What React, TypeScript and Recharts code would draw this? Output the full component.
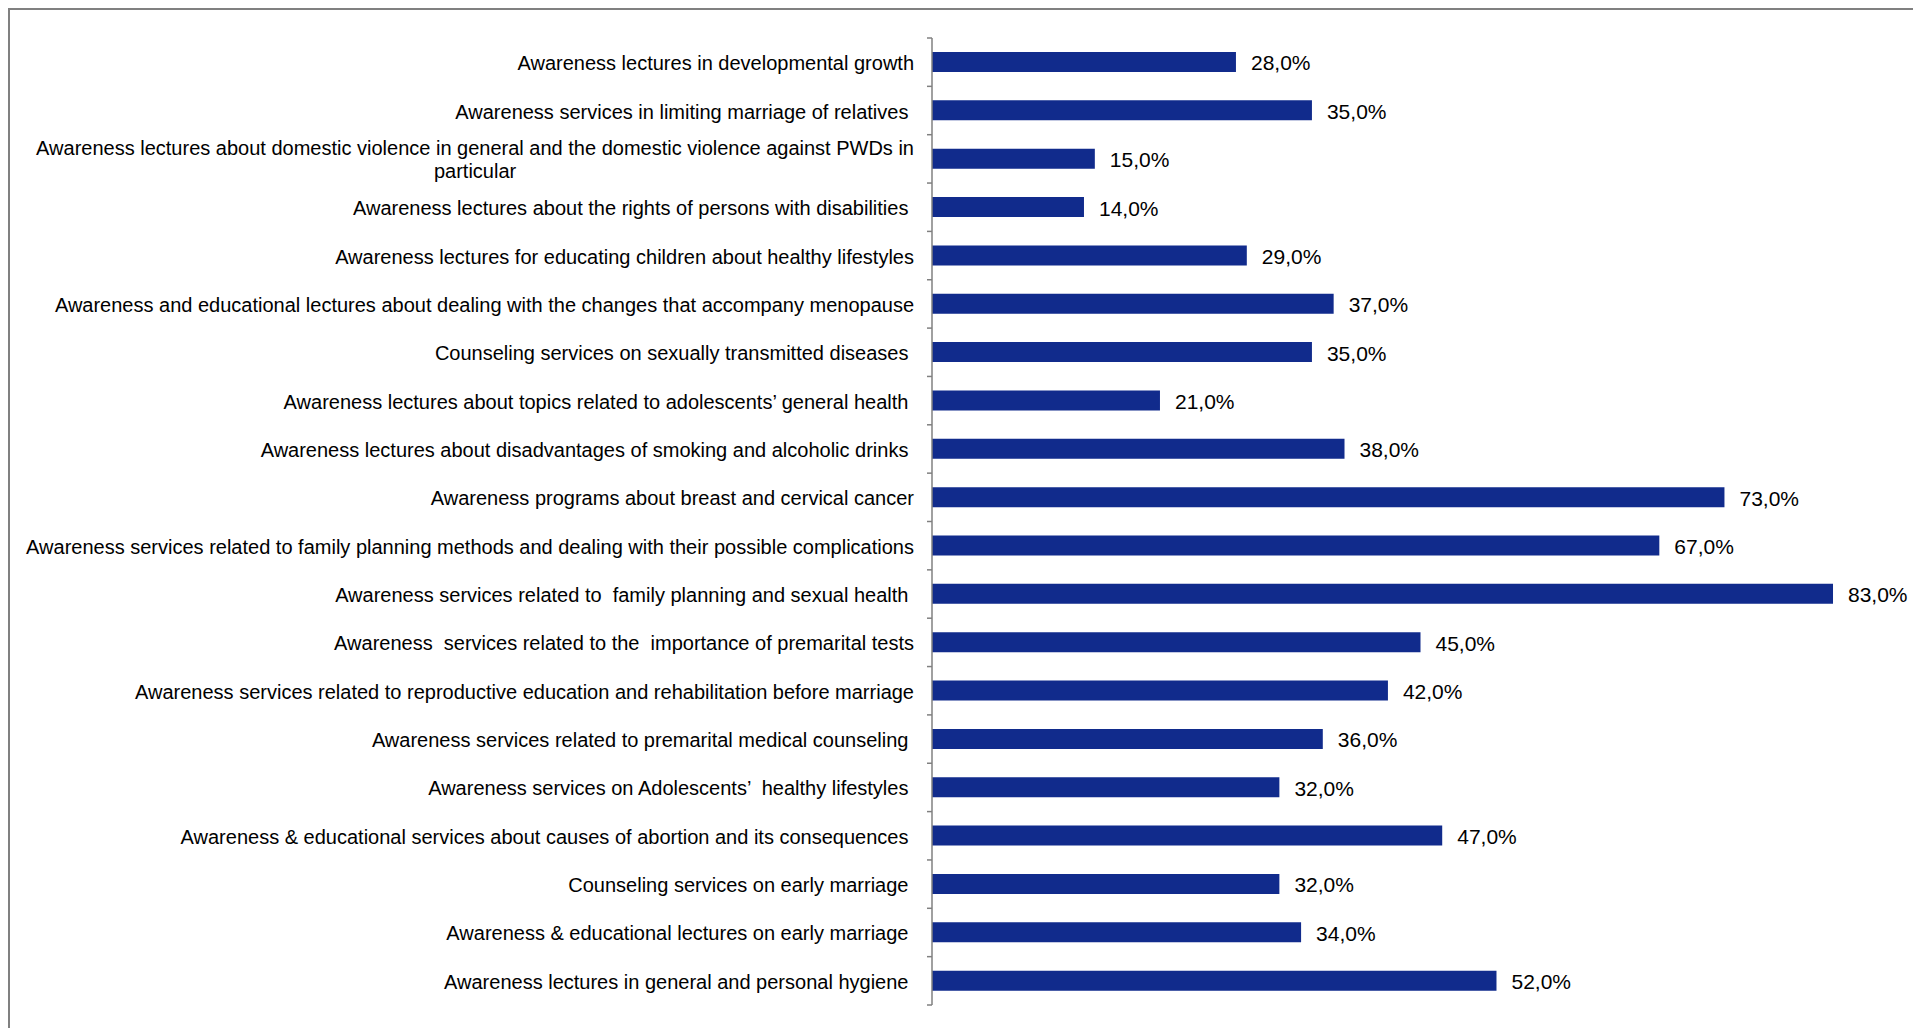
import React from "react"
import { BarChart, Bar, XAxis, YAxis, LabelList } from "recharts"

const categories = [
  "Awareness lectures in developmental growth",
  "Awareness services in limiting marriage of relatives ",
  "Awareness lectures about domestic violence in general and the domestic violence against PWDs in particular",
  "Awareness lectures about the rights of persons with disabilities ",
  "Awareness lectures for educating children about healthy lifestyles",
  "Awareness and educational lectures about dealing with the changes that accompany menopause",
  "Counseling services on sexually transmitted diseases ",
  "Awareness lectures about topics related to adolescents’ general health ",
  "Awareness lectures about disadvantages of smoking and alcoholic drinks ",
  "Awareness programs about breast and cervical cancer",
  "Awareness services related to family planning methods and dealing with their possible complications",
  "Awareness services related to  family planning and sexual health ",
  "Awareness  services related to the  importance of premarital tests",
  "Awareness services related to reproductive education and rehabilitation before marriage",
  "Awareness services related to premarital medical counseling ",
  "Awareness services on Adolescents’  healthy lifestyles ",
  "Awareness & educational services about causes of abortion and its consequences ",
  "Counseling services on early marriage ",
  "Awareness & educational lectures on early marriage ",
  "Awareness lectures in general and personal hygiene ",
]

// percent of respondents
const values = [28, 35, 15, 14, 29, 37, 35, 21, 38, 73, 67, 83, 45, 42, 36, 32, 47, 32, 34, 52]

const data = categories.map((name, i) => ({ name, value: values[i] }))

const W = 1911
const H = 1018
const MARGIN = { top: 28, right: 12, bottom: 23, left: 0 }
const AXIS_W = 922
const TICK_SIZE = 5
const TICK_MARGIN = 13
const BAND = (H - MARGIN.top - MARGIN.bottom) / categories.length
const FONT = '"Liberation Sans", Arial, sans-serif'
const FONT_SIZE = 20
const WRAP_W = 900
const GRAY = "#808080"

let ctx: CanvasRenderingContext2D | null = null
function measure(s: string) {
  if (!ctx) {
    ctx = document.createElement("canvas").getContext("2d")
    if (ctx) ctx.font = `${FONT_SIZE}px "Liberation Sans", Arial, sans-serif`
  }
  return ctx ? ctx.measureText(s).width : s.length * FONT_SIZE * 0.5
}

// greedy wrap, keeps double and trailing spaces as in the source
function wrap(label: string) {
  const words = label.split(" ")
  const lines: string[] = []
  let line = ""
  words.forEach((w, i) => {
    const next = i === 0 ? w : line + " " + w
    if (line.trim() && w && measure(next.trimEnd()) > WRAP_W) {
      lines.push(line)
      line = w
    } else {
      line = next
    }
  })
  lines.push(line)
  return lines
}

// eslint-disable-next-line @typescript-eslint/no-explicit-any
function CategoryTick({ x, y, payload, index }: any) {
  const axisX = x + TICK_MARGIN + TICK_SIZE
  const lines = wrap(String(payload.value))
  const lh = FONT_SIZE * 1.15
  const startY = y + 1 - ((lines.length - 1) * lh) / 2
  const multi = lines.length > 1
  return (
    <g>
      <text
        x={x}
        y={startY}
        textAnchor="end"
        dominantBaseline="central"
        fontSize={FONT_SIZE}
        fontFamily={FONT}
        fill="#000"
        style={{ whiteSpace: "pre" }}
      >
        {lines.map((l, i) => {
          const centred = multi && i === lines.length - 1
          return (
            <tspan
              key={i}
              x={x}
              y={startY + i * lh}
              textAnchor={centred ? "middle" : "end"}
              dx={centred ? -measure(lines[0].trimEnd()) / 2 : 0}
            >
              {l}
            </tspan>
          )
        })}
      </text>
      <line x1={axisX - TICK_SIZE} x2={axisX} y1={y - BAND / 2} y2={y - BAND / 2} stroke={GRAY} strokeWidth={1.5} />
      {index === categories.length - 1 && (
        <line x1={axisX - TICK_SIZE} x2={axisX} y1={y + BAND / 2} y2={y + BAND / 2} stroke={GRAY} strokeWidth={1.5} />
      )}
    </g>
  )
}

const fmt = (v: number) => `${v.toFixed(1).replace(".", ",")}%`

export default function App() {
  return (
    <div
      style={{
        width: W,
        height: H,
        borderTop: `2px solid ${GRAY}`,
        borderLeft: `2px solid ${GRAY}`,
        background: "#fff",
      }}
    >
      <BarChart width={W} height={H} data={data} layout="vertical" margin={MARGIN} barCategoryGap={0}>
        <XAxis type="number" domain={[0, 90]} hide />
        <YAxis
          type="category"
          dataKey="name"
          width={AXIS_W}
          axisLine={{ stroke: GRAY, strokeWidth: 1.5 }}
          tickLine={false}
          tickSize={TICK_SIZE}
          tickMargin={TICK_MARGIN}
          interval={0}
          tick={<CategoryTick />}
        />
        <Bar dataKey="value" fill="#112b8c" barSize={20} isAnimationActive={false}>
          <LabelList
            dataKey="value"
            position="right"
            offset={15}
            formatter={(v: unknown) => fmt(Number(v))}
            style={{ fontSize: 21, fontFamily: FONT, fill: "#000", transform: "translateY(1px)" }}
          />
        </Bar>
      </BarChart>
    </div>
  )
}
